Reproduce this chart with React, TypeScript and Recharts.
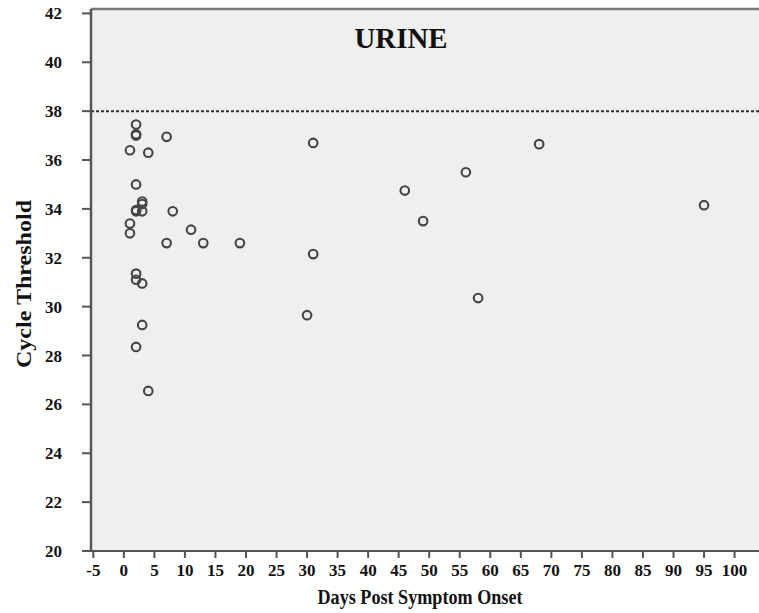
import { ScatterChart, Scatter, XAxis, YAxis, CartesianGrid, ReferenceLine, Label } from 'recharts';

// days post onset / Ct value
const days = [2, 2, 2, 7, 1, 4, 2, 3, 3, 2, 2, 3, 8, 1, 1, 11, 7, 13, 19, 2, 2, 3, 3, 2, 4, 31, 68, 56, 46, 49, 95, 31, 58, 30];
const ct = [37.45, 37.05, 37.0, 36.95, 36.4, 36.3, 35.0, 34.3, 34.2, 33.95, 33.9, 33.9, 33.9, 33.4, 33.0, 33.15, 32.6, 32.6, 32.6, 31.35, 31.1, 30.95, 29.25, 28.35, 26.55, 36.7, 36.65, 35.5, 34.75, 33.5, 34.15, 32.15, 30.35, 29.65];

const xTicks = [-5, 0, 5, 10, 15, 20, 25, 30, 35, 40, 45, 50, 55, 60, 65, 70, 75, 80, 85, 90, 95, 100];
const yTicks = [20, 22, 24, 26, 28, 30, 32, 34, 36, 38, 40, 42];
const cutoff = 38;
const X_MIN = -5.38;
const X_MAX = 104;
const Y_MIN = 20;
const Y_MAX = 42.18;

const points = days.map((d, i) => ({ day: d, ct: ct[i] }));

const serif = '"Liberation Serif", "Times New Roman", serif';

const Ring = (props: any) => (
    <circle cx={props.cx} cy={props.cy} r={4.3} fill="none" stroke="#444" strokeWidth={2.1} />
);

// tick labels placed by hand so they sit like the original
const XTick = (props: any) => (
    <text x={props.x} y={576} textAnchor="middle" fontFamily={serif} fontWeight="bold" fontSize={17} fill="#111">
        {props.payload.value}
    </text>
);

const YTick = (props: any) => (
    <text x={62} y={props.y + 6} textAnchor="end" fontFamily={serif} fontWeight="bold" fontSize={17} fill="#111">
        {props.payload.value}
    </text>
);

const YTitle = () => (
    <text x={23} y={284} transform="rotate(-90 23 284)" textAnchor="middle" dominantBaseline="central"
        fontFamily={serif} fontWeight="bold" fontSize={22} fill="#111" textLength={168} lengthAdjust="spacingAndGlyphs">
        Cycle Threshold
    </text>
);

const XTitle = () => (
    <text x={420} y={604} textAnchor="middle" fontFamily={serif} fontWeight="bold" fontSize={22} fill="#111"
        textLength={205} lengthAdjust="spacingAndGlyphs">
        Days Post Symptom Onset
    </text>
);

const ChartTitle = () => (
    <text x={401} y={48} textAnchor="middle" fontFamily={serif} fontWeight="bold" fontSize={30} fill="#111"
        textLength={93} lengthAdjust="spacingAndGlyphs">
        URINE
    </text>
);

const App = () => {
    return (
        <div style={{ position: 'absolute', left: 0, top: 0 }}>
            <ScatterChart width={759} height={613} margin={{ top: 9, right: 0, bottom: 0, left: 0 }}>
                <CartesianGrid fill="#efefef" stroke="none" horizontal={false} vertical={false} />
                <XAxis type="number" dataKey="day" domain={[X_MIN, X_MAX]} ticks={xTicks} interval={0}
                    allowDataOverflow height={62} tick={<XTick />} tickSize={7}
                    axisLine={{ stroke: '#555', strokeWidth: 2 }} tickLine={{ stroke: '#555', strokeWidth: 2 }}>
                    <Label content={<XTitle />} />
                </XAxis>
                <YAxis type="number" dataKey="ct" domain={[Y_MIN, Y_MAX]} ticks={yTicks} interval={0}
                    allowDataOverflow width={91} tick={<YTick />} tickSize={9}
                    axisLine={{ stroke: '#555', strokeWidth: 2.5 }} tickLine={{ stroke: '#555', strokeWidth: 2 }}>
                    <Label content={<YTitle />} />
                </YAxis>
                <ReferenceLine y={Y_MAX} stroke="#7a7a7a" strokeWidth={2.5}>
                    <Label content={<ChartTitle />} />
                </ReferenceLine>
                <ReferenceLine y={cutoff} stroke="#333" strokeWidth={2} strokeDasharray="3 2" />
                <Scatter data={points} shape={<Ring />} isAnimationActive={false} />
            </ScatterChart>
        </div>
    );
};

export default App;
